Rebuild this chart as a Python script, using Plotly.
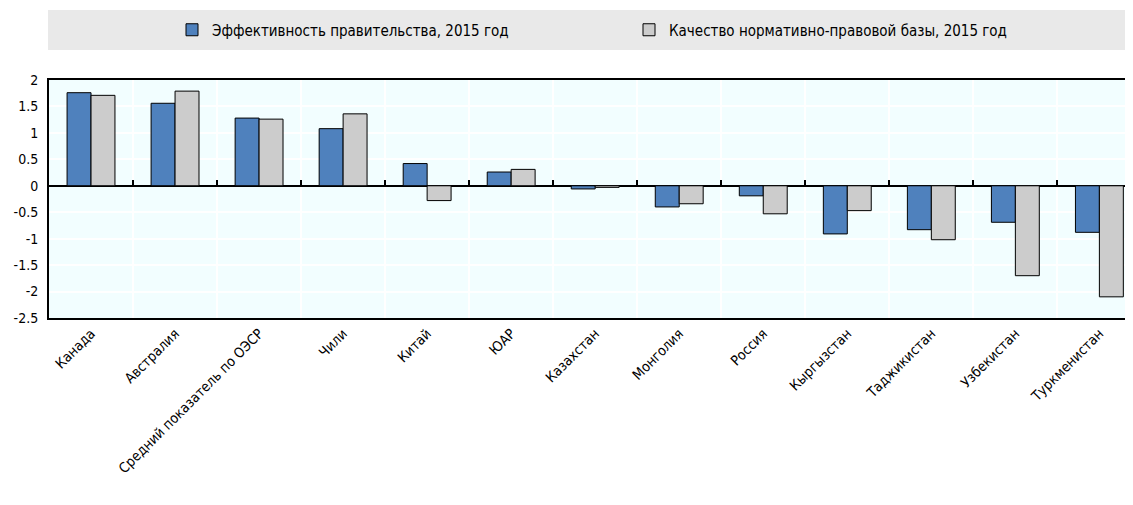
import plotly.graph_objects as go

categories = ["Канада", "Австралия", "Средний показатель по ОЭСР", "Чили", "Китай", "ЮАР",
              "Казахстан", "Монголия", "Россия", "Кыргызстан", "Таджикистан", "Узбекистан", "Туркменистан"]
gov_eff = [1.76, 1.56, 1.28, 1.08, 0.42, 0.26, -0.06, -0.40, -0.19, -0.91, -0.83, -0.69, -0.88]
reg_quality = [1.71, 1.79, 1.26, 1.36, -0.28, 0.31, -0.03, -0.34, -0.53, -0.47, -1.02, -1.70, -2.10]
series_names = ["Эффективность правительства, 2015 год", "Качество нормативно-правовой базы, 2015 год"]
y_ticks = [2, 1.5, 1, 0.5, 0, -0.5, -1, -1.5, -2, -2.5]

FONT = "DejaVu Sans Condensed, Liberation Sans Narrow, Arial Narrow, Liberation Sans, Arial, sans-serif"

# page has an 8px body margin: figure is drawn from (8, 8)
OFF = 8
W, H = 1133 - OFF, 505 - OFF
ML, MR, MT, MB = 49 - OFF, 0, 80 - OFF, 187
PH = H - MT - MB
PW = W - ML - MR

fig = go.Figure()
fig.add_trace(go.Bar(x=categories, y=gov_eff, name=series_names[0],
                     marker=dict(color="#4F81BD", line=dict(color="#000000", width=1))))
fig.add_trace(go.Bar(x=categories, y=reg_quality, name=series_names[1],
                     marker=dict(color="#CCCCCC", line=dict(color="#000000", width=1))))

n = len(categories)
x_range = [-0.5, 12.4]
ymin, ymax = -2.5, 2

# boundary ticks on the zero line
fig.add_trace(go.Scatter(x=[None], y=[None], xaxis="x2", showlegend=False, hoverinfo="skip"))

def py(p):
    # page pixel y -> paper fraction
    return (H - MB - (p - OFF)) / PH

fig.update_layout(
    width=W, height=H,
    margin=dict(l=ML, r=MR, t=MT, b=MB, autoexpand=False),
    paper_bgcolor="white",
    plot_bgcolor="#F2FEFF",
    barmode="group",
    bargap=0.43,
    bargroupgap=0,
    font=dict(family=FONT, size=14, color="#000000"),
    showlegend=True,
    legend=dict(orientation="h", x=(172 - OFF) / W, xref="container", xanchor="left",
                y=1 - (30 - OFF) / H, yref="container", yanchor="middle", bgcolor="rgba(0,0,0,0)",
                font=dict(family=FONT, size=15), entrywidth=412, entrywidthmode="pixels",
                itemwidth=30, traceorder="normal"),
    xaxis=dict(type="category", categoryarray=categories, range=x_range, automargin=False,
               showgrid=True, gridcolor="white", gridwidth=1.5, tickson="boundaries",
               showline=True, linecolor="#000000", linewidth=2, mirror=True,
               ticks="", tickangle=-45, tickfont=dict(family=FONT, size=14),
               zeroline=False),
    xaxis2=dict(overlaying="x", anchor="free", position=(0 - ymin) / (ymax - ymin),
                range=x_range, tickvals=[i + 0.5 for i in range(n)], ticks="inside",
                ticklen=6, tickwidth=2, tickcolor="#000000", showticklabels=False,
                showgrid=False, zeroline=False, showline=False, automargin=False),
    yaxis=dict(range=[ymin, ymax], tickvals=y_ticks, ticktext=[str(v) for v in y_ticks],
               showgrid=True, gridcolor="white", gridwidth=1.5, automargin=False,
               showline=True, linecolor="#000000", linewidth=2,
               zeroline=True, zerolinecolor="#000000", zerolinewidth=2,
               ticks="", ticklabelstandoff=6, tickfont=dict(family=FONT, size=14)),
    shapes=[dict(type="rect", xref="paper", yref="paper", x0=(48 - 49) / PW, x1=1.0,
                 y0=py(50), y1=py(10),
                 fillcolor="#E9E9E9", line=dict(width=0), layer="below")],
)

fig.write_html("out.html")
